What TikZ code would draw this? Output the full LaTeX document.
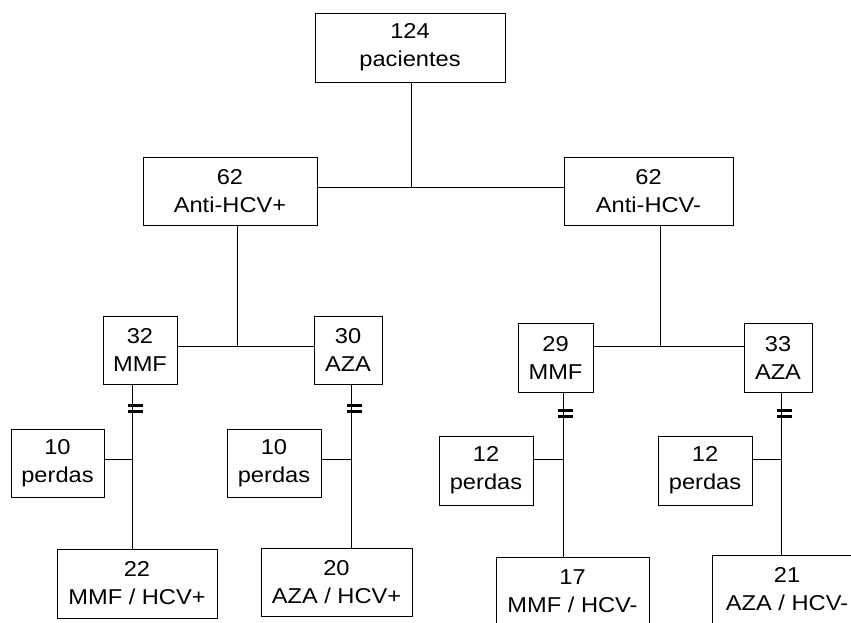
\documentclass[tikz,border=0pt]{standalone}
\usepackage{fontspec}
\setmainfont{Liberation Sans}[FakeStretch=1.1]
\usepackage{tikz}

\tikzset{
	box/.style={shape=rectangle, draw=black, line width=0.8pt, align=center, inner sep=0pt,
		font=\fontsize{21.5}{28}\selectfont},
	link/.style={draw=black, line width=0.8pt},
	cut/.style={draw=black, line width=2.6pt}
}

\begin{document}
\begin{tikzpicture}[x=1pt, y=-1pt]
	
	\useasboundingbox (0, 0) rectangle (851, 622);
	\clip (0, 0) rectangle (851, 622);

	\node[box, minimum width=190, minimum height=69] (top)   at (410, 47.5)    {124\\pacientes};
	\node[box, minimum width=174, minimum height=68] (hcvP)  at (230, 191)     {62\\Anti-HCV+};
	\node[box, minimum width=169, minimum height=68] (hcvN)  at (648.5, 191)   {62\\Anti-HCV-};
	\node[box, minimum width=74, minimum height=68]  (mmfP)  at (140, 350)     {32\\MMF};
	\node[box, minimum width=68, minimum height=68]  (azaP)  at (348, 350)     {30\\AZA};
	\node[box, minimum width=75, minimum height=69]  (mmfN)  at (555.5, 357.5) {29\\MMF};
	\node[box, minimum width=68, minimum height=69]  (azaN)  at (778, 357.5)   {33\\AZA};
	\node[box, minimum width=93, minimum height=68]  (perdA) at (57.5, 463)    {10\\perdas};
	\node[box, minimum width=94, minimum height=68]  (perdB) at (274, 463)     {10\\perdas};
	\node[box, minimum width=94, minimum height=69]  (perdC) at (486, 470.5)   {12\\perdas};
	\node[box, minimum width=94, minimum height=69]  (perdD) at (705, 470.5)   {12\\perdas};
	\node[box, minimum width=160, minimum height=69] (finA)  at (137, 583.5)   {22\\MMF / HCV+};
	\node[box, minimum width=151, minimum height=68] (finB)  at (336.5, 582)   {20\\AZA / HCV+};
	\node[box, minimum width=153, minimum height=69] (finC)  at (572.5, 591.5) {17\\MMF / HCV-};
	\node[box, minimum width=150, minimum height=69] (finD)  at (787, 589.5)   {21\\AZA / HCV-};

	\coordinate (jTop) at (411, 187);
	\coordinate (jP)   at (237, 346);
	\coordinate (jN)   at (660, 346);
	\coordinate (cA)   at (132, 459);
	\coordinate (cB)   at (351, 459);
	\coordinate (cC)   at (563, 459);
	\coordinate (cD)   at (781, 459);

	\path[link] (top.south -| jTop) -- (jTop);
	\path[link] (hcvP.east |- jTop) -- (hcvN.west |- jTop);

	\path[link] (hcvP.south -| jP) -- (jP);
	\path[link] (mmfP.east |- jP) -- (azaP.west |- jP);
	\path[link] (hcvN.south -| jN) -- (jN);
	\path[link] (mmfN.east |- jN) -- (azaN.west |- jN);

	\path[link] (mmfP.south -| cA) -- (finA.north -| cA);
	\path[link] (perdA.east |- cA) -- (cA);
	\path[link] (azaP.south -| cB) -- (finB.north -| cB);
	\path[link] (perdB.east |- cB) -- (cB);
	\path[link] (mmfN.south -| cC) -- (finC.north -| cC);
	\path[link] (perdC.east |- cC) -- (cC);
	\path[link] (azaN.south -| cD) -- (finD.north -| cD);
	\path[link] (perdD.east |- cD) -- (cD);

	% break marks
	\path[cut] (128, 405.3) -- ++(15, 0) (128, 411.5) -- ++(15, 0);
	\path[cut] (347, 405.3) -- ++(15, 0) (347, 411.5) -- ++(15, 0);
	\path[cut] (558, 410.5) -- ++(15, 0) (558, 416.7) -- ++(15, 0);
	\path[cut] (777, 410.5) -- ++(15, 0) (777, 416.7) -- ++(15, 0);
	
\end{tikzpicture}
\end{document}
